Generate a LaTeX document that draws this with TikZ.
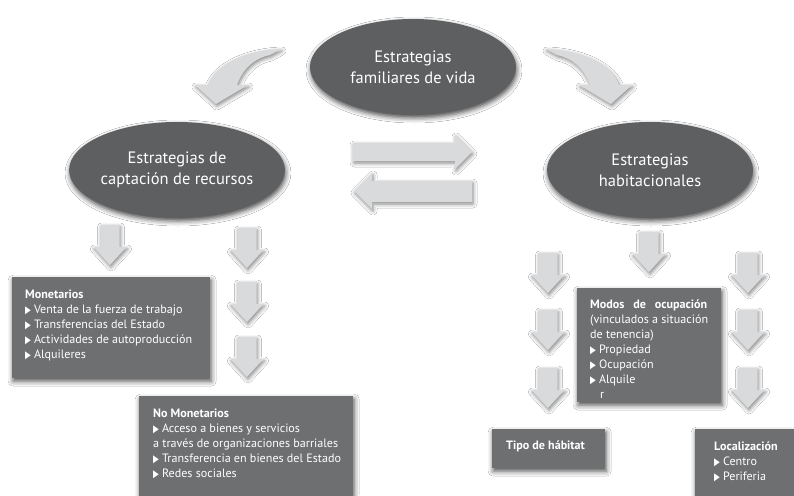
\documentclass[tikz,border=0pt]{standalone}
\usepackage{fontspec}
\usepackage{graphicx}
\setmainfont{PT Sans}
\newfontfamily\symfont{DejaVu Sans}
\usetikzlibrary{shapes.geometric,shadows.blur}
\definecolor{ellc}{HTML}{5E5F61}
\definecolor{boxc}{HTML}{6E6F71}
\definecolor{arrc}{HTML}{D9DADB}
\newcommand{\bul}{{\symfont\fontsize{10.5}{10.5}\selectfont\raisebox{0.2pt}{\scalebox{0.72}[1]{▶}}}\hspace{3pt}}
% down block arrow, top centre at (#1,#2)
\newcommand{\downarr}[2]{\path[carr] (#1-9.5,#2) -- (#1+9.5,#2) -- (#1+9.5,#2+22) -- (#1+16.5,#2+22)
  -- (#1,#2+40) -- (#1-16.5,#2+22) -- (#1-9.5,#2+22) -- cycle;}
\tikzset{
  shad/.style={blur shadow={shadow blur radius=5pt, shadow xshift=1pt, shadow yshift=-3pt, shadow opacity=70}},
  oval/.style={ellipse, fill=ellc, text=white, minimum width=206pt, minimum height=96pt,
    inner sep=0pt, align=center, font=\fontsize{16.5}{21}\selectfont, shad},
  panel/.style={rectangle, fill=boxc, inner sep=0pt, anchor=north west, shad},
  ptext/.style={anchor=north west, text=white, align=left, inner sep=0pt,
    font=\fontsize{12.1}{15}\selectfont},
  carr/.style={fill=arrc, blur shadow={shadow blur radius=4pt, shadow xshift=1pt, shadow yshift=-2pt, shadow opacity=50}}
}
\begin{document}
\begin{tikzpicture}[x=1pt,y=-1pt]
\useasboundingbox (0,0) rectangle (794,495);
\fill[white] (0,0) rectangle (794,495);

% ellipses
\node[oval] (top) at (413,67) {Estrategias\\familiares de vida};
\node[oval] (cap) at (177,170) {Estrategias de\\captación de recursos};
\node[oval] (hab) at (650,170) {Estrategias\\habitacionales};

% curved arrows
\path[carr] (281,49) .. controls (245,50) and (215,65) .. (208,85) -- (195,85) -- (216,104)
  -- (248,85) -- (237,85) .. controls (243,68) and (255,58) .. (270,55) -- cycle;
\path[carr] (546,49) .. controls (582,50) and (612,65) .. (619,85) -- (632,85) -- (611,104)
  -- (579,85) -- (590,85) .. controls (584,68) and (572,58) .. (557,55) -- cycle;

% horizontal arrows
\path[carr] (353,143) -- (455,143) -- (455,135) -- (472,152) -- (455,169) -- (455,161) -- (353,161) -- cycle;
\path[carr] (472,181) -- (372,181) -- (372,173) -- (354,191) -- (372,209) -- (372,202) -- (472,202) -- cycle;

% down arrows left side
\downarr{110}{225}
\downarr{247}{228}
\downarr{247}{282}
\downarr{247}{337}
% down arrows right side
\downarr{649}{232}
\downarr{548}{253}
\downarr{548}{310}
\downarr{548}{368}
\downarr{748}{253}
\downarr{748}{310}
\downarr{748}{368}

% boxes
\node[panel, minimum width=198pt, minimum height=101pt] (mon) at (12,277) {};
\node[ptext] (montx) at (25,290) {\textbf{Monetarios}\\
\bul Venta de la fuerza de trabajo\\
\bul Transferencias del Estado\\
\bul Actividades de autoproducción\\
\bul Alquileres};

\node[panel, minimum width=214pt, minimum height=104pt] (nomon) at (139,396) {};
\node[ptext] (nomontx) at (153,409) {\textbf{No Monetarios}\\
\bul Acceso a bienes y servicios\\
a través de organizaciones barriales\\
\bul Transferencia en bienes del Estado\\
\bul Redes sociales};

\node[panel, minimum width=144pt, minimum height=114pt] (modos) at (577,288) {};
\node[ptext] (modostx) at (590,300) {\makebox[117pt][s]{\textbf{Modos de ocupación}}\\
(vinculados a situación\\
de tenencia)\\
\bul Propiedad\\
\bul Ocupación\\
\bul Alquile\\
\hspace*{10pt}r};

\node[panel, minimum width=113pt, minimum height=39pt] (tipo) at (492,429) {};
\node[ptext] (tipotx) at (506,441) {\textbf{Tipo de hábitat}};

\node[panel, minimum width=110pt, minimum height=80pt] (loc) at (695,429) {};
\node[ptext] (loctx) at (714,442) {\textbf{Localización}\\
\bul Centro\\
\bul Periferia};
\end{tikzpicture}
\end{document}
